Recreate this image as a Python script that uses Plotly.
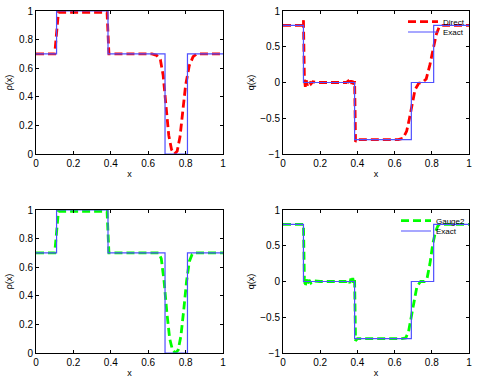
import plotly.graph_objects as go
from plotly.subplots import make_subplots

# exact Riemann solution (piecewise constant)
x_exact = [0, 0.11, 0.11, 0.385, 0.385, 0.69, 0.69, 0.81, 0.81, 1]
rho_exact = [0.7, 0.7, 1.0, 1.0, 0.7, 0.7, 0.0, 0.0, 0.7, 0.7]
q_exact = [0.8, 0.8, 0.0, 0.0, -0.8, -0.8, 0.0, 0.0, 0.8, 0.8]

# Direct scheme
x_rho_direct = [0, 0.10, 0.12, 0.38, 0.39, 0.62, 0.645, 0.665, 0.68, 0.695, 0.71, 0.725, 0.74, 0.755,
                0.77, 0.785, 0.80, 0.82, 0.84, 0.86, 0.9, 1]
rho_direct = [0.7, 0.7, 0.99, 0.99, 0.7, 0.7, 0.69, 0.66, 0.55, 0.33, 0.13, 0.03, 0.0, 0.02,
              0.12, 0.3, 0.48, 0.62, 0.68, 0.7, 0.7, 0.7]
x_q_direct = [0, 0.105, 0.11, 0.115, 0.12, 0.125, 0.13, 0.14, 0.15, 0.16, 0.18, 0.2, 0.34, 0.35,
              0.36, 0.365, 0.37, 0.375, 0.38, 0.385, 0.39, 0.40, 0.62, 0.645, 0.665, 0.68, 0.695,
              0.71, 0.73, 0.75, 0.77, 0.79, 0.81, 0.825, 0.84, 0.86, 1]
q_direct = [0.8, 0.8, 0.87, 0.05, -0.06, 0.03, -0.04, 0.02, -0.02, 0.01, 0.0, 0.0, 0.0, 0.02,
            -0.02, 0.03, -0.02, 0.05, -0.03, 0.02, -0.83, -0.8, -0.8, -0.78, -0.68, -0.5, -0.28,
            -0.1, -0.01, 0.0, 0.05, 0.25, 0.5, 0.68, 0.78, 0.8, 0.8]

# Gauge2 scheme
x_rho_gauge = [0, 0.10, 0.12, 0.38, 0.39, 0.63, 0.655, 0.67, 0.685, 0.70, 0.715, 0.73, 0.745, 0.76,
               0.775, 0.79, 0.805, 0.82, 0.835, 0.85, 0.9, 1]
rho_gauge = [0.7, 0.7, 0.99, 0.99, 0.7, 0.7, 0.7, 0.66, 0.5, 0.28, 0.1, 0.02, 0.0, 0.02,
             0.12, 0.3, 0.5, 0.64, 0.69, 0.7, 0.7, 0.7]
x_q_gauge = [0, 0.105, 0.11, 0.115, 0.12, 0.125, 0.13, 0.14, 0.15, 0.16, 0.18, 0.2, 0.34, 0.35,
             0.36, 0.365, 0.37, 0.375, 0.38, 0.385, 0.39, 0.40, 0.64, 0.66, 0.675, 0.69, 0.705,
             0.72, 0.74, 0.76, 0.775, 0.79, 0.805, 0.82, 0.835, 0.85, 1]
q_gauge = [0.8, 0.8, 0.8, 0.04, -0.07, 0.03, -0.04, 0.02, -0.02, 0.01, 0.0, 0.0, 0.0, 0.02,
           -0.02, 0.04, -0.02, 0.05, -0.03, 0.02, -0.83, -0.8, -0.8, -0.79, -0.7, -0.5, -0.25,
           -0.07, 0.0, 0.0, 0.05, 0.25, 0.52, 0.7, 0.79, 0.8, 0.8]

exact_col = "rgb(80,80,255)"
red = "rgb(255,0,0)"
green = "rgb(0,255,0)"
dash = "8px,4px"

fig = make_subplots(rows=2, cols=2)

fig.add_trace(go.Scatter(x=x_rho_direct, y=rho_direct, mode="lines", showlegend=False,
                         line=dict(color=red, width=2.8, dash=dash)), row=1, col=1)
fig.add_trace(go.Scatter(x=x_exact, y=rho_exact, mode="lines", showlegend=False,
                         line=dict(color=exact_col, width=1.2)), row=1, col=1)

# one legend per entry so the rows can sit as close as in the original
fig.add_trace(go.Scatter(x=x_q_direct, y=q_direct, mode="lines", name="Direct", legend="legend",
                         line=dict(color=red, width=2.8, dash=dash)), row=1, col=2)
fig.add_trace(go.Scatter(x=x_exact, y=q_exact, mode="lines", name="Exact", legend="legend2",
                         line=dict(color=exact_col, width=1.2)), row=1, col=2)

fig.add_trace(go.Scatter(x=x_rho_gauge, y=rho_gauge, mode="lines", showlegend=False,
                         line=dict(color=green, width=2.8, dash=dash)), row=2, col=1)
fig.add_trace(go.Scatter(x=x_exact, y=rho_exact, mode="lines", showlegend=False,
                         line=dict(color=exact_col, width=1.2)), row=2, col=1)

fig.add_trace(go.Scatter(x=x_q_gauge, y=q_gauge, mode="lines", name="Gauge2", legend="legend3",
                         line=dict(color=green, width=2.8, dash=dash)), row=2, col=2)
fig.add_trace(go.Scatter(x=x_exact, y=q_exact, mode="lines", name="Exact", legend="legend4",
                         line=dict(color=exact_col, width=1.2)), row=2, col=2)

W, H = 477, 381


def px_x(p):
    return p / W


def px_y(p):
    return (H - p) / H


dom_x = [[px_x(36), px_x(223)], [px_x(283), px_x(469)]]
dom_y = [[px_y(154), px_y(11)], [px_y(353), px_y(210)]]

axis_style = dict(showline=True, linecolor="black", linewidth=1, mirror="allticks",
                  ticks="inside", ticklen=3, tickcolor="black", showgrid=False, zeroline=False,
                  automargin=False, tickfont=dict(size=10, color="black"))

for i in range(4):
    r, c = i // 2, i % 2
    n = "" if i == 0 else str(i + 1)
    fig.layout["xaxis" + n].update(domain=dom_x[c], range=[0, 1], tickvals=[0, 0.2, 0.4, 0.6, 0.8, 1],
                                   ticktext=["0", "0.2", "0.4", "0.6", "0.8", "1"],
                                   title=dict(text="x", font=dict(size=9), standoff=2), **axis_style)
    if c == 0:
        fig.layout["yaxis" + n].update(domain=dom_y[r], range=[0, 1], tickvals=[0, 0.2, 0.4, 0.6, 0.8, 1],
                                       ticktext=["0", "0.2", "0.4", "0.6", "0.8", "1"],
                                       title=dict(text="ρ(x)", font=dict(size=9), standoff=4), **axis_style)
    else:
        fig.layout["yaxis" + n].update(domain=dom_y[r], range=[-1, 1], tickvals=[-1, -0.5, 0, 0.5, 1],
                                       ticktext=["\u22121", "\u22120.5", "0", "0.5", "1"],
                                       title=dict(text="q(x)", font=dict(size=9), standoff=4), **axis_style)

leg = dict(bgcolor="rgba(0,0,0,0)", borderwidth=0, font=dict(size=8, color="black"),
           itemwidth=30, xanchor="left", yanchor="middle")

fig.update_layout(
    width=W, height=H,
    margin=dict(l=0, r=0, t=0, b=0, autoexpand=False),
    paper_bgcolor="white", plot_bgcolor="white",
    font=dict(family="Liberation Sans, Arial, sans-serif", size=9, color="black"),
    legend=dict(x=px_x(403), y=px_y(21.7), **leg),
    legend2=dict(x=px_x(403), y=px_y(32), **leg),
    legend3=dict(x=px_x(396), y=px_y(220.7), **leg),
    legend4=dict(x=px_x(396), y=px_y(231), **leg),
)

# drop the default 8px body margin so the figure fills the window
fig.write_html("out.html", config={"displayModeBar": False},
               post_script="document.body.style.margin='0px';")
